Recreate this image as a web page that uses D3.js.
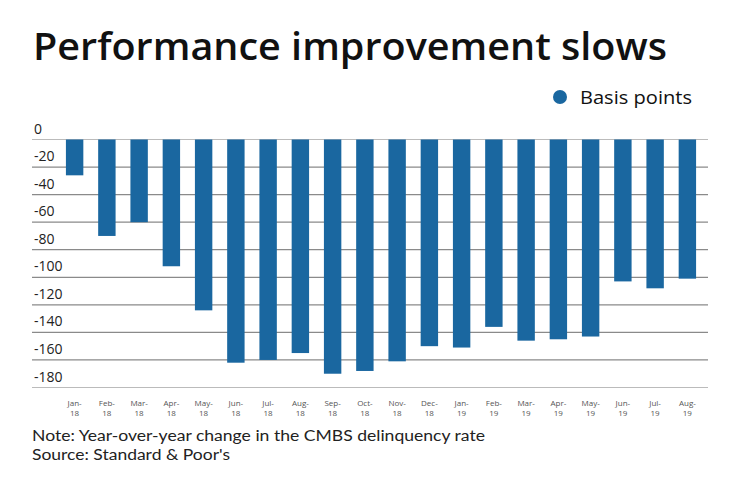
<!DOCTYPE html>
<html>
<head>
<meta charset="utf-8">
<script src="https://cdn.jsdelivr.net/npm/d3@7"></script>
<style>
  body { margin: 0; background: #fff; }
  text { font-family: "Open Sans", "Noto Sans", sans-serif; }
  text.note { font-family: "Lato", "Open Sans", sans-serif; }
</style>
</head>
<body>
<script>
const W = 740;
const H = 482;

const months = ["Jan-", "Feb-", "Mar-", "Apr-", "May-", "Jun-", "Jul-", "Aug-", "Sep-", "Oct-",
  "Nov-", "Dec-", "Jan-", "Feb-", "Mar-", "Apr-", "May-", "Jun-", "Jul-", "Aug-"];
const years = ["18", "18", "18", "18", "18", "18", "18", "18", "18", "18",
  "18", "18", "19", "19", "19", "19", "19", "19", "19", "19"];
const basisPoints = [-26, -70, -60, -92, -124, -162, -160, -155, -170, -168,
  -161, -150, -151, -136, -146, -145, -143, -103, -108, -101];
const yTicks = [0, -20, -40, -60, -80, -100, -120, -140, -160, -180];

const BAR_COLOR = "#1a67a0";

const svg = d3.select("body")
  .append("svg")
  .attr("width", W)
  .attr("height", H);

// title
svg.append("text")
  .attr("x", 33)
  .attr("y", 60)
  .attr("textLength", 634)
  .attr("lengthAdjust", "spacingAndGlyphs")
  .style("font-size", "38px")
  .style("font-weight", "600")
  .style("fill", "#111")
  .text("Performance improvement slows");

// legend
svg.append("circle")
  .attr("cx", 560)
  .attr("cy", 97)
  .attr("r", 7)
  .style("fill", BAR_COLOR);
svg.append("text")
  .attr("x", 580)
  .attr("y", 104)
  .attr("textLength", 112)
  .attr("lengthAdjust", "spacingAndGlyphs")
  .style("font-size", "19px")
  .style("fill", "#111")
  .text("Basis points");

const idx = d3.range(basisPoints.length);

const x = d3.scaleBand()
  .domain(idx)
  .range([58.5, 703.5])
  .paddingInner(0.46)
  .paddingOuter(0.23);

const y = d3.scaleLinear()
  .domain([0, -180])
  .range([139.5, 387.5]);

// gridlines
svg.append("g")
  .selectAll("line")
  .data(yTicks)
  .enter()
  .append("line")
  .attr("x1", 32)
  .attr("x2", 708)
  .attr("y1", d => y(d))
  .attr("y2", d => y(d))
  .style("stroke", (d, i) => (i === 0 || i === yTicks.length - 1) ? "#bbb" : "#8a8a8a")
  .style("stroke-width", 1.2);

// y labels sit above their gridline
svg.append("g")
  .selectAll("text")
  .data(yTicks)
  .enter()
  .append("text")
  .attr("x", 34)
  .attr("y", d => y(d) - 6)
  .style("font-size", "14px")
  .style("fill", "#222")
  .text(d => d);

// bars
svg.append("g")
  .selectAll("rect")
  .data(idx)
  .enter()
  .append("rect")
  .attr("x", i => x(i))
  .attr("width", x.bandwidth())
  .attr("y", y(0))
  .attr("height", i => y(basisPoints[i]) - y(0))
  .style("fill", BAR_COLOR);

// x labels, two rows
const cx = i => x(i) + x.bandwidth() / 2;
svg.append("g")
  .selectAll("text")
  .data(idx)
  .enter()
  .append("text")
  .attr("x", cx)
  .attr("y", 406)
  .attr("text-anchor", "middle")
  .style("font-size", "8px")
  .style("fill", "#555")
  .text(i => months[i]);
svg.append("g")
  .selectAll("text")
  .data(idx)
  .enter()
  .append("text")
  .attr("x", cx)
  .attr("y", 416)
  .attr("text-anchor", "middle")
  .style("font-size", "8px")
  .style("fill", "#555")
  .text(i => years[i]);

// notes
svg.append("text")
  .attr("class", "note")
  .attr("x", 32)
  .attr("y", 441)
  .attr("textLength", 453)
  .attr("lengthAdjust", "spacingAndGlyphs")
  .style("font-size", "15.5px")
  .style("fill", "#222")
  .text("Note: Year-over-year change in the CMBS delinquency rate");
svg.append("text")
  .attr("class", "note")
  .attr("x", 32)
  .attr("y", 460)
  .attr("textLength", 198)
  .attr("lengthAdjust", "spacingAndGlyphs")
  .style("font-size", "15.5px")
  .style("fill", "#222")
  .text("Source: Standard & Poor's");
</script>
</body>
</html>
